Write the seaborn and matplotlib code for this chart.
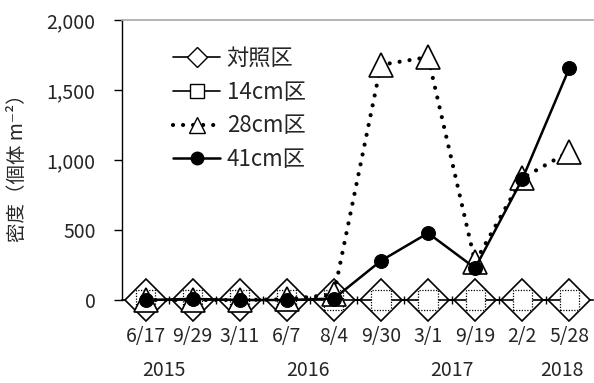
import numpy as np
import pandas as pd
import matplotlib
matplotlib.use("Agg")
import matplotlib.pyplot as plt
import seaborn as sns
from matplotlib.lines import Line2D
from matplotlib.ticker import FuncFormatter, FixedLocator

dates = ["6/17", "9/29", "3/11", "6/7", "8/4", "9/30", "3/1", "9/19", "2/2", "5/28"]
years = ["2015", "2016", "2017", "2018"]
year_pos = [0.38, 3.45, 6.5, 8.85]
series_names = ["対照区", "14cm区", "28cm区", "41cm区"]
control = [0, 0, 0, 0, 0, 0, 0, 0, 0, 0]
cm14 = [0, 0, 0, 0, 0, 0, 0, 0, 0, 0]
cm28 = [0, 0, 0, 5, 40, 1680, 1735, 270, 870, 1060]
cm41 = [0, 8, 0, 0, 10, 280, 478, 228, 862, 1655]

sns.set_theme(style="white")
plt.rcParams["font.family"] = ["Noto Sans CJK JP", "DejaVu Sans"]

xpos = np.arange(len(dates))
df = pd.DataFrame({"x": xpos, "control": control, "cm14": cm14, "cm28": cm28, "cm41": cm41})

fig = plt.figure(figsize=(5.94, 3.83), dpi=100)
ax = fig.add_axes([122 / 594, 1 - 300 / 383, 1 - 122 / 594 - 0.002, 280 / 383])

# control: diamonds
sns.lineplot(data=df, x="x", y="control", ax=ax, color="black", lw=1.2, marker="D",
             markersize=21, markerfacecolor="white", markeredgecolor="black",
             markeredgewidth=1.2, zorder=3, sort=False, clip_on=False)
# 14cm: line + dotted squares
sns.lineplot(data=df, x="x", y="cm14", ax=ax, color="black", lw=1.2, zorder=3.1, sort=False,
             clip_on=False)
sns.scatterplot(data=df, x="x", y="cm14", ax=ax, marker="s", s=190, facecolor="white",
                edgecolor="black", linewidth=0.9, linestyle=(0, (1, 1.2)), zorder=3.2,
                clip_on=False)
# 28cm: dotted line + triangles
sns.lineplot(data=df, x="x", y="cm28", ax=ax, color="black", lw=3, linestyle=(0, (0.01, 2.4)),
             dash_capstyle="round", marker="^", markersize=17, markerfacecolor="white",
             markeredgecolor="black", markeredgewidth=1.2, zorder=3.3, sort=False,
             clip_on=False)
# 41cm: solid line + filled circles
sns.lineplot(data=df, x="x", y="cm41", ax=ax, color="black", lw=1.8, marker="o",
             markersize=10, markerfacecolor="black", markeredgecolor="black",
             zorder=3.4, sort=False, clip_on=False)

ax.set_xlim(-0.5, len(dates) - 0.5)
ax.set_ylim(0, 2000)
ax.set_yticks([0, 500, 1000, 1500, 2000])
ax.yaxis.set_major_formatter(FuncFormatter(lambda v, p: f"{int(v):,}"))
ax.set_xticks(xpos)
ax.set_xticklabels(dates)
ax.xaxis.set_minor_locator(FixedLocator(np.arange(0.5, len(dates) - 0.5, 1)))
ax.tick_params(axis="x", which="major", length=0, pad=19, labelsize=14)
ax.tick_params(axis="x", which="minor", direction="inout", length=6, width=1, color="black", bottom=True)
ax.tick_params(axis="y", which="major", direction="out", length=6, width=1, color="black",
               left=True, pad=13, labelsize=14)
ax.set_xlabel("")
ax.set_ylabel("密度（個体 m⁻²）", fontsize=14)
ax.yaxis.set_label_coords(-0.2, 0.49)

ax.spines["right"].set_visible(False)
ax.spines["top"].set_color("#aaaaaa")
ax.spines["left"].set_color("black")
ax.spines["bottom"].set_color("black")
ax.spines["bottom"].set_zorder(2.5)
ax.spines["left"].set_linewidth(1)
ax.spines["bottom"].set_linewidth(1.2)

for yr, p in zip(years, year_pos):
    ax.text(p, -0.25, yr, transform=ax.get_xaxis_transform(), ha="center", va="center",
            fontsize=14)

handles = [
    Line2D([], [], color="black", lw=1.2, marker="D", markersize=10, mfc="white", mec="black"),
    Line2D([], [], color="black", lw=1.2, marker="s", markersize=10, mfc="white", mec="black"),
    Line2D([], [], color="black", lw=3, linestyle=(0, (0.01, 2.4)), dash_capstyle="round",
           marker="^", markersize=11, mfc="white", mec="black"),
    Line2D([], [], color="black", lw=1.8, marker="o", markersize=9, mfc="black", mec="black"),
]
ax.legend(handles, series_names, loc="upper left", bbox_to_anchor=(0.09, 0.935), frameon=False,
          fontsize=16, handlelength=2.1, handletextpad=0.3, labelspacing=0.48, borderaxespad=0)

fig.savefig("out.png", dpi=100)
